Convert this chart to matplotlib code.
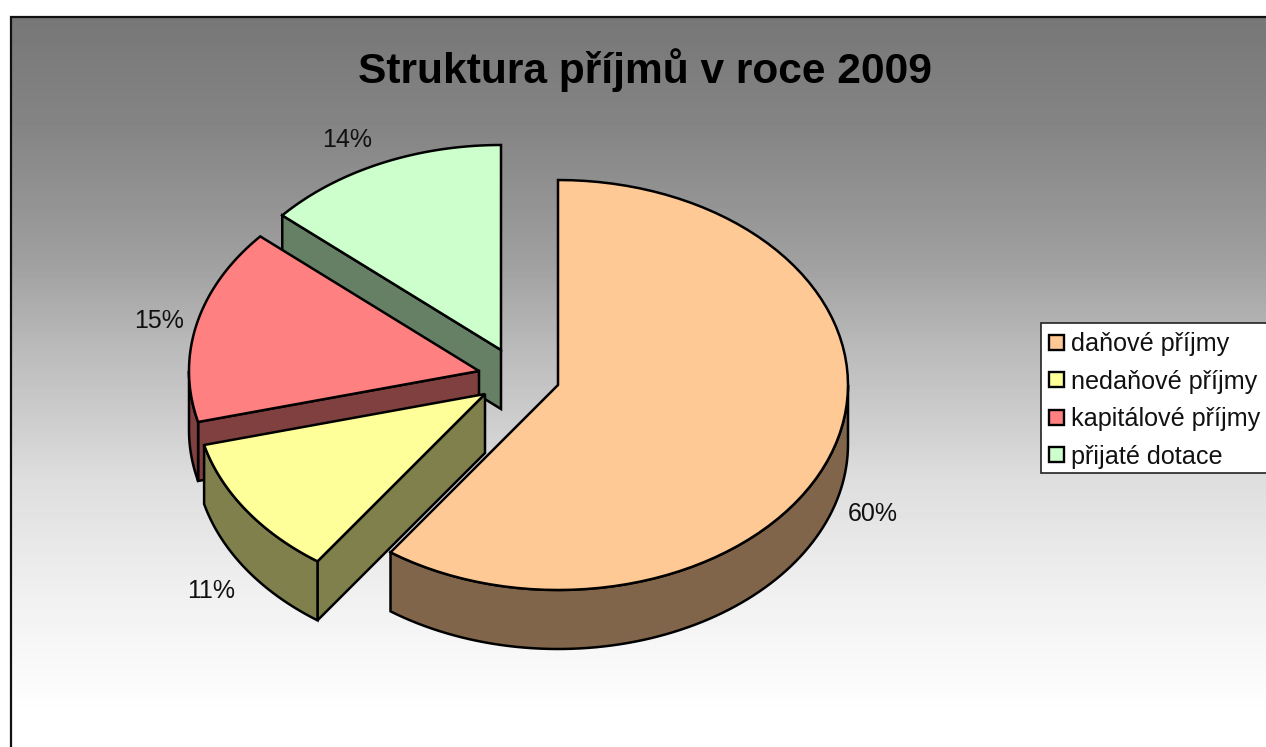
import numpy as np
import matplotlib
matplotlib.use("Agg")
import matplotlib.pyplot as plt
from matplotlib.patches import Polygon, Rectangle

plt.rcParams['font.family'] = ['Liberation Sans', 'DejaVu Sans']

title = "Struktura příjmů v roce 2009"
labels = ["daňové příjmy", "nedaňové příjmy", "kapitálové příjmy", "přijaté dotace"]
values = [59.8, 11.2, 15.4, 13.6]
colors = ["#FFC995", "#FFFF99", "#FF8080", "#CCFFCC"]
side_colors = ["#80654B", "#80804D", "#804040", "#668066"]

# where each slice has its tip after the explode, in pixels
tips = [(558, 385), (485, 394), (479, 371), (501, 350)]
label_pos = [(873, 514), (211, 591), (159, 321), (347, 140)]

W, H = 1266, 747
RX, RY = 290, 205
DEPTH = 59
LW = 1.8

fig = plt.figure(figsize=(W / 100, H / 100), dpi=100)
ax = fig.add_axes([0, 0, 1, 1])
ax.set_xlim(0, W)
ax.set_ylim(H, 0)
ax.axis('off')

# grey to white background, not quite linear in the reference
rows = np.arange(16, H)
shade = np.interp(rows, [16, 130, 260, 340, 400, 480, 600, 715],
	[0x77, 0x85, 0x9F, 0xB8, 0xC8, 0xDE, 0xF1, 0xFF]).reshape(-1, 1) / 255
ax.imshow(shade, cmap='gray', vmin=0, vmax=1, extent=(10, W, H, 16), aspect='auto', zorder=0)
ax.set_xlim(0, W)
ax.set_ylim(H, 0)
ax.plot([10.5, 10.5, W], [H, 16.5, 16.5], color='#111111', lw=1.6, zorder=1, solid_joinstyle='miter')


def rim(tip, a, b, n=80):
	# angles clockwise from 12 o'clock, in degrees
	t = np.radians(np.linspace(a, b, n))
	return np.column_stack((tip[0] + RX * np.sin(t), tip[1] - RY * np.cos(t)))


def draw_slice(tip, a, b, color, side):
	style = dict(ec='black', lw=LW, joinstyle='miter', zorder=2)
	tip = np.array(tip, dtype=float)
	down = np.array([0, DEPTH])
	# cut faces that look towards the viewer
	if np.sin(np.radians(a)) < -1e-6:
		p = rim(tip, a, a, 1)[0]
		ax.add_patch(Polygon([tip, p, p + down, tip + down], fc=side, **style))
	if np.sin(np.radians(b)) > 1e-6:
		p = rim(tip, b, b, 1)[0]
		ax.add_patch(Polygon([tip, p, p + down, tip + down], fc=side, **style))
	# outer wall, only the front half shows
	lo, hi = max(a, 90), min(b, 270)
	if lo < hi:
		edge = rim(tip, lo, hi)
		ax.add_patch(Polygon(np.vstack((edge, edge[::-1] + down)), fc=side, **style))
	# top
	ax.add_patch(Polygon(np.vstack(([tip], rim(tip, a, b))), fc=color, **style))


angles = np.cumsum([0] + values) * 3.6
for i in [3, 2, 1, 0]:
	draw_slice(tips[i], angles[i], angles[i + 1], colors[i], side_colors[i])

for i in range(len(values)):
	ax.text(label_pos[i][0], label_pos[i][1], "%.0f%%" % values[i], fontsize=18,
		ha='center', va='center', color='#111111', zorder=5)

ax.text(645, 70, title, fontsize=30.6, fontweight='bold', ha='center', va='center', zorder=5)

# legend
ax.add_patch(Rectangle((1040.5, 323), W - 1040, 150, fc='white', ec='#222222', lw=1.2, zorder=5))
for i in range(len(labels)):
	y = 342 + i * 37.6
	ax.add_patch(Rectangle((1049, y - 7.5), 15, 15, fc=colors[i], ec='black', lw=1.7, zorder=6))
	ax.text(1071, y + 2, labels[i], fontsize=18.1, ha='left', va='center', color='#111111', zorder=6)

fig.savefig("out.png", dpi=100)
